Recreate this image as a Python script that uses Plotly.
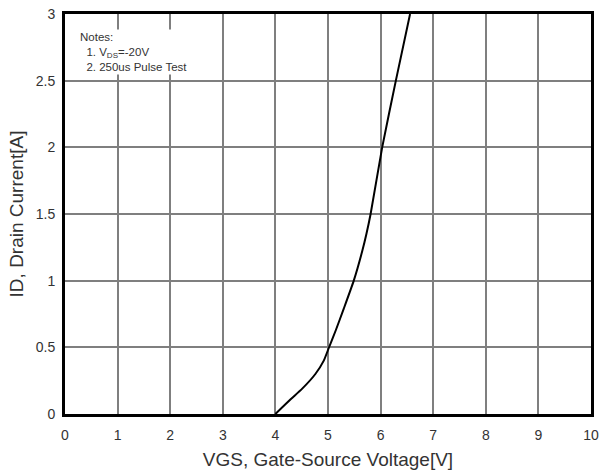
import plotly.graph_objects as go

vgs = [4.0, 4.29, 4.51, 4.76, 4.92, 5.00, 5.15, 5.30, 5.49, 5.65, 5.73, 5.81, 6.03, 6.29, 6.56]
i_d = [0.0, 0.11, 0.19, 0.30, 0.40, 0.48, 0.63, 0.79, 1.00, 1.22, 1.35, 1.50, 2.00, 2.50, 3.00]

x_ticks = list(range(0, 11))
y_ticks = [0, 0.5, 1, 1.5, 2, 2.5, 3]
y_tick_labels = ["0", "0.5", "1", "1.5", "2", "2.5", "3"]

fig = go.Figure()
fig.add_trace(go.Scatter(x=vgs, y=i_d, mode="lines",
                         line=dict(color="black", width=2, shape="spline", smoothing=0.5),
                         showlegend=False, hoverinfo="skip"))

fig.update_layout(
    width=600, height=476,
    margin=dict(l=65, r=9, t=14, b=62, autoexpand=False),
    paper_bgcolor="white", plot_bgcolor="white",
    font=dict(family="Liberation Sans, Arial, sans-serif", color="#333333"),
    xaxis=dict(range=[0, 10], tickvals=x_ticks, ticktext=[str(t) for t in x_ticks],
               showgrid=True, gridcolor="#7f7f7f", gridwidth=1.5,
               showline=True, linecolor="black", linewidth=3, mirror=True,
               zeroline=False, ticks="", tickfont=dict(size=14, color="#333333"),
               ticklabelstandoff=6,
               automargin=False,
               title=dict(text="VGS, Gate-Source Voltage[V]", font=dict(size=19, color="#333333"), standoff=11)),
    yaxis=dict(range=[0, 3], tickvals=y_ticks, ticktext=y_tick_labels,
               showgrid=True, gridcolor="#7f7f7f", gridwidth=1.5,
               showline=True, linecolor="black", linewidth=3, mirror=True,
               zeroline=False, ticks="", tickfont=dict(size=14, color="#333333"),
               ticklabelstandoff=4,
               automargin=False,
               title=dict(text="ID, Drain Current[A]", font=dict(size=19, color="#333333"), standoff=8)),
)

fig.add_annotation(
    xref="paper", yref="paper", x=0.025, y=0.962, xanchor="left", yanchor="top",
    align="left", showarrow=False, bgcolor="white",
    text="Notes:<br>  1. V<sub>DS</sub>=-20V<br>  2. 250us Pulse Test",
    font=dict(size=11.5, color="#333333", family="Liberation Sans, Arial, sans-serif"),
)

fig.write_html("out.html")
